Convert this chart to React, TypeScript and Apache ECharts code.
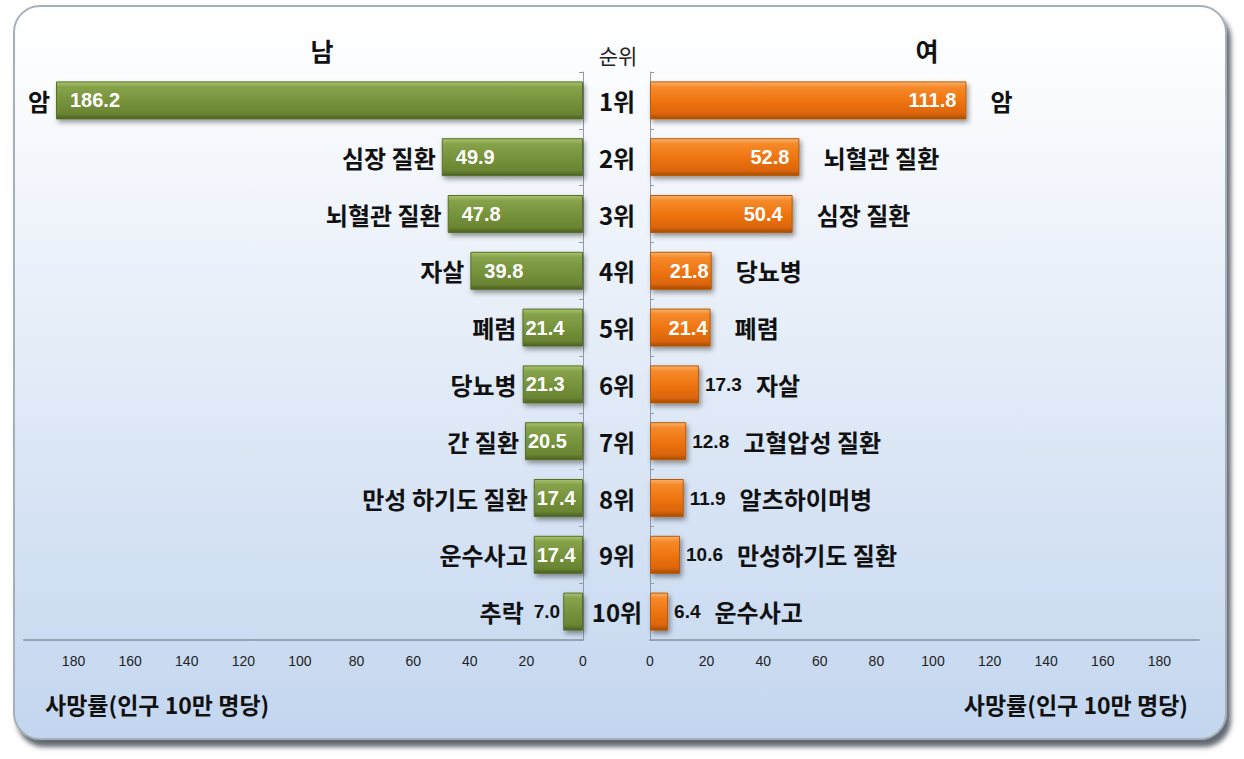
import React, { useEffect, useRef } from "react";
import * as echarts from "echarts";

const ranks = ["1위", "2위", "3위", "4위", "5위", "6위", "7위", "8위", "9위", "10위"];
const maleCauses = ["암", "심장 질환", "뇌혈관 질환", "자살", "폐렴", "당뇨병", "간 질환", "만성 하기도 질환", "운수사고", "추락"];
const maleRates = [186.2, 49.9, 47.8, 39.8, 21.4, 21.3, 20.5, 17.4, 17.4, 7.0];
const femaleCauses = ["암", "뇌혈관 질환", "심장 질환", "당뇨병", "폐렴", "자살", "고혈압성 질환", "알츠하이머병", "만성하기도 질환", "운수사고"];
const femaleRates = [111.8, 52.8, 50.4, 21.8, 21.4, 17.3, 12.8, 11.9, 10.6, 6.4];
const tickLabels = [0, 20, 40, 60, 80, 100, 120, 140, 160, 180];

const MALE_INSIDE_MIN = 15;
const FEMALE_INSIDE_MIN = 20;

const KR = "'Noto Sans CJK KR', 'Noto Sans', sans-serif";
const NUM = "'Liberation Sans', Arial, sans-serif";
const NARROW = "'Liberation Sans Narrow', 'Liberation Sans', Arial, sans-serif";

export default function App() {
  const ref = useRef<HTMLDivElement>(null);
  useEffect(() => {
    if (!ref.current) return;
    const chart = echarts.init(ref.current, null, { renderer: "svg" });
    const G = echarts.graphic.LinearGradient;
    const green = new G(0, 0, 0, 1, [
      { offset: 0, color: "#a9c46c" },
      { offset: 0.14, color: "#86a24a" },
      { offset: 0.5, color: "#77933c" },
      { offset: 0.86, color: "#6a8532" },
      { offset: 1, color: "#4b5f22" },
    ]);
    const orange = new G(0, 0, 0, 1, [
      { offset: 0, color: "#fbb26a" },
      { offset: 0.14, color: "#f58a2a" },
      { offset: 0.5, color: "#ef7512" },
      { offset: 0.86, color: "#dc6508" },
      { offset: 1, color: "#a34c05" },
    ]);
    const fmt = (v: number) => v.toFixed(1);
    const valueAxisCommon = {
      type: "value" as const,
      min: 0,
      interval: 20,
      splitLine: { show: false },
      axisTick: { show: false },
      axisLine: { show: true, lineStyle: { color: "#98a4b0", width: 2 } },
      axisLabel: {
        margin: 14,
        fontSize: 14,
        fontFamily: NARROW,
        color: "#222",
        formatter: (v: number) => (tickLabels.includes(v) ? String(v) : ""),
      },
    };
    const catAxisCommon = {
      type: "category" as const,
      inverse: true,
      data: ranks,
      axisLine: { show: true, lineStyle: { color: "#8f9aa5", width: 1 } },
      axisTick: { show: true, length: 4, inside: true, lineStyle: { color: "#8f9aa5" } },
    };
    const barCommon = {
      type: "bar" as const,
      barWidth: 38,
      clip: false,
      silent: true,
    };
    const option: any = {
      animation: false,
      graphic: [
        {
          type: "rect",
          z: -10,
          shape: { x: 14, y: 6, width: 1212, height: 733, r: 26 },
          style: {
            fill: new G(0, 0, 0, 1, [
              { offset: 0, color: "#ffffff" },
              { offset: 0.1, color: "#fbfcfe" },
              { offset: 1, color: "#c3d6ef" },
            ]),
            stroke: "#a7b0b9",
            lineWidth: 2,
            shadowColor: "rgba(70,80,92,0.85)",
            shadowBlur: 5,
            shadowOffsetX: 4,
            shadowOffsetY: 7,
          },
        },
        { type: "text", x: 322, y: 50, style: { text: "남", font: `bold 25px ${KR}`, fill: "#111", textAlign: "center", textVerticalAlign: "middle" } },
        { type: "text", x: 927, y: 50, style: { text: "여", font: `bold 25px ${KR}`, fill: "#111", textAlign: "center", textVerticalAlign: "middle" } },
        { type: "text", x: 618, y: 55, style: { text: "순위", font: `21px ${KR}`, fill: "#222", textAlign: "center", textVerticalAlign: "middle" } },
        { type: "text", x: 45, y: 704, style: { text: "사망률(인구 10만 명당)", font: `bold 23px ${KR}`, fill: "#111", textAlign: "left", textVerticalAlign: "middle" } },
        { type: "text", x: 1188, y: 704, style: { text: "사망률(인구 10만 명당)", font: `bold 23px ${KR}`, fill: "#111", textAlign: "right", textVerticalAlign: "middle" } },
      ],
      grid: [
        { left: 24, top: 72, width: 559, height: 568 },
        { left: 650, top: 72, width: 549, height: 568 },
      ],
      xAxis: [
        { ...valueAxisCommon, gridIndex: 0, inverse: true, max: 197.5 },
        { ...valueAxisCommon, gridIndex: 1, max: 194 },
      ],
      yAxis: [
        {
          ...catAxisCommon,
          gridIndex: 0,
          position: "right",
          axisLabel: { margin: 34, align: "center", fontSize: 24, fontWeight: "bold", fontFamily: KR, color: "#111" },
        },
        { ...catAxisCommon, gridIndex: 1, position: "left", axisLabel: { show: false } },
      ],
      series: [
        {
          ...barCommon,
          name: "남",
          xAxisIndex: 0,
          yAxisIndex: 0,
          itemStyle: { color: green, borderColor: "#56702a", borderWidth: 1, shadowColor: "rgba(0,0,0,0.4)", shadowBlur: 5, shadowOffsetX: 2, shadowOffsetY: 3 },
          label: { show: true, position: "insideLeft", distance: 14, color: "#fff", fontSize: 20, fontWeight: "bold", fontFamily: NUM, formatter: (p: any) => fmt(p.value) },
          data: maleRates.map((v) => ({ value: v, label: { show: v >= MALE_INSIDE_MIN, distance: v < 25 ? 3 : 14 } })),
        },
        {
          ...barCommon,
          name: "남-항목",
          xAxisIndex: 0,
          yAxisIndex: 0,
          barGap: "-100%",
          itemStyle: { color: "rgba(0,0,0,0)" },
          label: {
            show: true,
            position: "left",
            distance: 6,
            formatter: (p: any) => {
              const v = maleRates[p.dataIndex];
              const n = maleCauses[p.dataIndex];
              return v >= MALE_INSIDE_MIN ? `{n|${n}}` : `{n|${n}}{v|${fmt(v)}}`;
            },
            rich: {
              n: { fontSize: 24, fontWeight: "bold", fontFamily: KR, color: "#111" },
              v: { fontSize: 19, fontWeight: "bold", fontFamily: NUM, color: "#111", padding: [0, 0, 0, 10] },
            },
          },
          data: maleRates.map((v) => ({ value: v, label: { distance: v >= MALE_INSIDE_MIN ? 6 : 3 } })),
        },
        {
          ...barCommon,
          name: "여",
          xAxisIndex: 1,
          yAxisIndex: 1,
          itemStyle: { color: orange, borderColor: "#b85a08", borderWidth: 1, shadowColor: "rgba(0,0,0,0.4)", shadowBlur: 5, shadowOffsetX: 2, shadowOffsetY: 3 },
          label: { show: true, position: "insideRight", distance: 10, color: "#fff", fontSize: 20, fontWeight: "bold", fontFamily: NUM, formatter: (p: any) => fmt(p.value) },
          data: femaleRates.map((v) => ({ value: v, label: { show: v >= FEMALE_INSIDE_MIN, distance: v < 25 ? 3 : 10 } })),
        },
        {
          ...barCommon,
          name: "여-항목",
          xAxisIndex: 1,
          yAxisIndex: 1,
          barGap: "-100%",
          itemStyle: { color: "rgba(0,0,0,0)" },
          label: {
            show: true,
            position: "right",
            distance: 22,
            formatter: (p: any) => {
              const v = femaleRates[p.dataIndex];
              const n = femaleCauses[p.dataIndex];
              return v >= FEMALE_INSIDE_MIN ? `{n|${n}}` : `{v|${fmt(v)}}{m|${n}}`;
            },
            rich: {
              n: { fontSize: 24, fontWeight: "bold", fontFamily: KR, color: "#111" },
              m: { fontSize: 24, fontWeight: "bold", fontFamily: KR, color: "#111", padding: [0, 0, 0, 14] },
              v: { fontSize: 19, fontWeight: "bold", fontFamily: NUM, color: "#111" },
            },
          },
          data: femaleRates.map((v) => ({ value: v, label: { distance: v >= FEMALE_INSIDE_MIN ? 24 : 6 } })),
        },
      ],
    };
    chart.setOption(option);
    return () => chart.dispose();
  }, []);
  return (
    <div style={{ position: "absolute", left: 0, top: 0, width: 1244, height: 759, background: "#fff" }}>
      <div ref={ref} style={{ width: 1244, height: 759 }} />
    </div>
  );
}
